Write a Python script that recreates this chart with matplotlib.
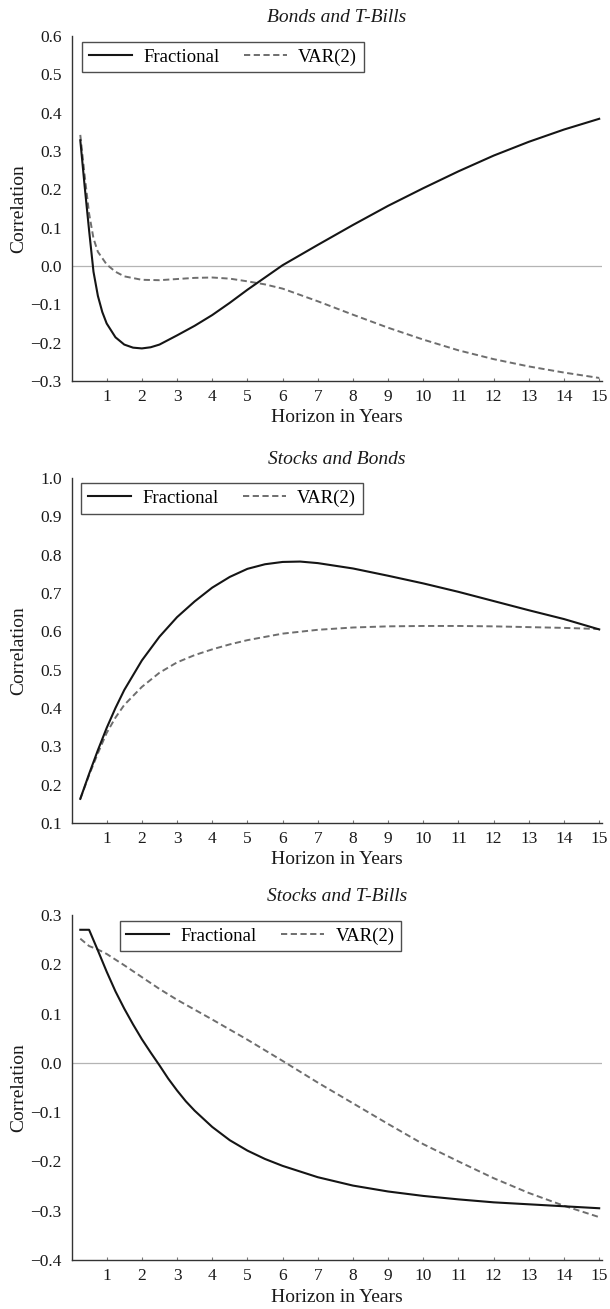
import matplotlib
matplotlib.use("Agg")
import matplotlib.pyplot as plt

plt.rcParams['font.family'] = ['Liberation Serif', 'DejaVu Serif']

# ---------------- data ----------------
titles = ["Bonds and T-Bills", "Stocks and Bonds", "Stocks and T-Bills"]
xticks = list(range(1, 16))
ylims = [(-0.3, 0.6), (0.1, 1.0), (-0.4, 0.3)]

# Bonds and T-Bills
bt_frac_x = [0.25, 0.375, 0.5, 0.625, 0.75, 0.875, 1.0, 1.25, 1.5, 1.75, 2.0, 2.25, 2.5, 3.0,
             3.5, 4.0, 4.5, 5.0, 5.5, 6.0, 7.0, 8.0, 9.0, 10.0, 11.0, 12.0, 13.0, 14.0, 15.0]
bt_frac_y = [0.328, 0.207, 0.093, -0.015, -0.078, -0.120, -0.150, -0.186, -0.205, -0.213,
             -0.215, -0.212, -0.205, -0.181, -0.156, -0.128, -0.096, -0.062, -0.030, 0.002,
             0.055, 0.107, 0.157, 0.203, 0.247, 0.288, 0.324, 0.356, 0.384]
bt_var_x = [0.25, 0.375, 0.5, 0.625, 0.75, 1.0, 1.25, 1.5, 2.0, 2.5, 3.0, 3.5, 4.0, 4.5, 5.0,
            5.5, 6.0, 7.0, 8.0, 9.0, 10.0, 11.0, 12.0, 13.0, 14.0, 15.0]
bt_var_y = [0.342, 0.235, 0.137, 0.072, 0.037, 0.004, -0.015, -0.027, -0.036, -0.037, -0.034,
            -0.031, -0.030, -0.033, -0.040, -0.048, -0.059, -0.092, -0.127, -0.161, -0.192,
            -0.220, -0.243, -0.262, -0.278, -0.292]

# Stocks and Bonds
sb_frac_x = [0.25, 0.5, 0.75, 1.0, 1.25, 1.5, 2.0, 2.5, 3.0, 3.5, 4.0, 4.5, 5.0, 5.5, 6.0, 6.5,
             7.0, 8.0, 9.0, 10.0, 11.0, 12.0, 13.0, 14.0, 15.0]
sb_frac_y = [0.163, 0.228, 0.290, 0.348, 0.400, 0.447, 0.524, 0.586, 0.637, 0.678, 0.714,
             0.742, 0.763, 0.775, 0.781, 0.782, 0.778, 0.764, 0.745, 0.725, 0.703, 0.679,
             0.655, 0.632, 0.605]
sb_var_x = [0.25, 0.5, 0.75, 1.0, 1.25, 1.5, 2.0, 2.5, 3.0, 3.5, 4.0, 4.5, 5.0, 6.0, 7.0, 8.0,
            9.0, 10.0, 11.0, 12.0, 13.0, 14.0, 15.0]
sb_var_y = [0.163, 0.225, 0.282, 0.335, 0.375, 0.408, 0.455, 0.492, 0.519, 0.538, 0.553, 0.566,
            0.577, 0.594, 0.604, 0.610, 0.613, 0.614, 0.614, 0.613, 0.611, 0.609, 0.606]

# Stocks and T-Bills
st_frac_x = [0.25, 0.5, 0.75, 1.0, 1.25, 1.5, 1.75, 2.0, 2.25, 2.5, 2.75, 3.0, 3.25, 3.5, 4.0,
             4.5, 5.0, 5.5, 6.0, 7.0, 8.0, 9.0, 10.0, 11.0, 12.0, 13.0, 14.0, 15.0]
st_frac_y = [0.27, 0.27, 0.228, 0.185, 0.145, 0.110, 0.078, 0.048, 0.021, -0.005, -0.032,
             -0.056, -0.078, -0.097, -0.130, -0.157, -0.178, -0.195, -0.209, -0.232, -0.249,
             -0.261, -0.270, -0.277, -0.283, -0.287, -0.291, -0.295]
st_var_x = [0.25, 0.5, 0.75, 1.0, 1.5, 2.0, 2.5, 3.0, 4.0, 5.0, 6.0, 7.0, 8.0, 9.0, 10.0, 11.0,
            12.0, 13.0, 14.0, 15.0]
st_var_y = [0.252, 0.237, 0.230, 0.221, 0.198, 0.174, 0.150, 0.128, 0.088, 0.047, 0.004,
            -0.040, -0.082, -0.124, -0.165, -0.200, -0.234, -0.264, -0.290, -0.313]

series = [
    (bt_frac_x, bt_frac_y, bt_var_x, bt_var_y),
    (sb_frac_x, sb_frac_y, sb_var_x, sb_var_y),
    (st_frac_x, st_frac_y, st_var_x, st_var_y),
]
zero_line = [True, False, True]
legend_anchor = [(0.020, 0.983), (0.018, 0.985), (0.091, 0.983)]

# ---------------- layout ----------------
W, H = 610, 1309
fig = plt.figure(figsize=(W / 100, H / 100), dpi=100)
left_px, right_px = 71.5, 602
tops_px = [36, 478, 915]
ax_h_px = 345

for i in range(3):
    top = tops_px[i]
    ax = fig.add_axes([left_px / W, 1 - (top + ax_h_px) / H,
                       (right_px - left_px) / W, ax_h_px / H])
    fx, fy, vx, vy = series[i]
    if zero_line[i]:
        ax.axhline(0, color='#b4b4b4', lw=0.9, zorder=1)
    ax.plot(fx, fy, color='#151515', lw=1.5, label='Fractional', zorder=3)
    ax.plot(vx, vy, color='#6e6e6e', lw=1.4, dashes=(3.2, 1.8), label='VAR(2)', zorder=2)
    ax.set_xlim(0, 15.08)
    ax.set_ylim(*ylims[i])
    ax.set_xticks(xticks)
    lo, hi = ylims[i]
    yt = [round(lo + 0.1 * k, 1) for k in range(int(round((hi - lo) / 0.1)) + 1)]
    ax.set_yticks(yt)
    ax.set_yticklabels([f"{v:.1f}".replace('-', '\u2212') for v in yt])
    for s in ['top', 'right']:
        ax.spines[s].set_visible(False)
    for s in ['left', 'bottom']:
        ax.spines[s].set_color('#333333')
        ax.spines[s].set_linewidth(1.0)
    ax.tick_params(axis='x', length=2.5, width=0.8, direction='in', color='#777777',
                   labelsize=12.5, pad=6, labelcolor='#1a1a1a')
    ax.tick_params(axis='y', length=0, labelsize=12.5, pad=7, labelcolor='#1a1a1a')
    ax.set_xlabel('Horizon in Years', fontsize=14, labelpad=3, color='#1a1a1a')
    ax.set_ylabel('Correlation', fontsize=14, color='#1a1a1a')
    ax.yaxis.set_label_coords(-0.083, 0.5)
    ax.set_title(titles[i], fontsize=14, style='italic', pad=10, color='#1a1a1a')
    leg = ax.legend(loc='upper left', bbox_to_anchor=legend_anchor[i], ncol=2,
                    fontsize=13.5, frameon=True, fancybox=False, borderaxespad=0,
                    handlelength=2.3, columnspacing=1.3, handletextpad=0.6,
                    borderpad=0.35)
    leg.get_frame().set_edgecolor('#222222')
    leg.get_frame().set_linewidth(1.0)

fig.savefig('out.png', dpi=100)
